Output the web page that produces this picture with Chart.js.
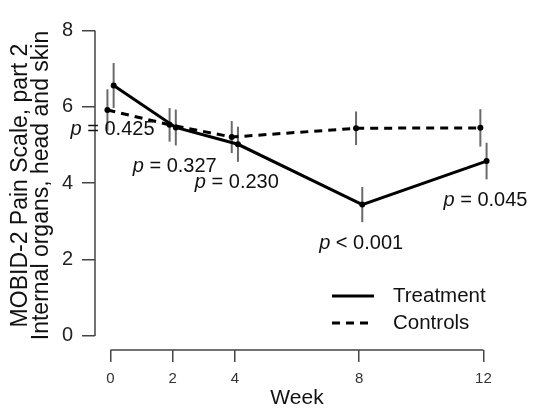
<!DOCTYPE html>
<html>
<head>
<meta charset="utf-8">
<script src="https://cdn.jsdelivr.net/npm/chart.js@4/dist/chart.umd.min.js"></script>
<style>
  html, body { margin: 0; padding: 0; background: #fff; }
  #wrap { width: 534px; height: 412px; }
</style>
</head>
<body>
<div id="wrap"><canvas id="chart"></canvas></div>
<script>
// ── data ──
const weeks = [0, 2, 4, 8, 12];
const treatmentMean = [6.56, 5.46, 5.02, 3.44, 4.58];
const treatmentErr  = [0.59, 0.47, 0.46, 0.46, 0.48];
const controlsMean  = [5.92, 5.53, 5.21, 5.44, 5.45];
const controlsErr   = [0.54, 0.44, 0.42, 0.44, 0.49];
const pLabels = ['= 0.425', '= 0.327', '= 0.230', '< 0.001', '= 0.045'];
const yTicks = [0, 2, 4, 6, 8];

const FONT = "'Liberation Sans', Arial, Helvetica, sans-serif";
const DODGE = 0.1; // weeks, so the two series do not overlap

function series(means, offset) {
  return weeks.map((w, i) => ({ x: w + offset, y: means[i] }));
}

// error bars, R-style axes, p-values and legend
const extras = {
  id: 'extras',
  beforeDatasetsDraw(chart) {
    const { ctx, scales: { x, y } } = chart;
    ctx.save();
    ctx.strokeStyle = '#6a6a6a';
    ctx.lineWidth = 2;
    chart.data.datasets.forEach(ds => {
      ds.data.forEach((p, i) => {
        const px = x.getPixelForValue(p.x);
        ctx.beginPath();
        ctx.moveTo(px, y.getPixelForValue(p.y + ds.err[i]));
        ctx.lineTo(px, y.getPixelForValue(p.y - ds.err[i]));
        ctx.stroke();
      });
    });
    ctx.restore();
  },
  afterDraw(chart) {
    const { ctx, chartArea, scales: { x, y } } = chart;
    ctx.save();

    // axis lines that only span the tick range
    ctx.strokeStyle = '#444';
    ctx.lineWidth = 1.5;
    ctx.beginPath();
    ctx.moveTo(chartArea.left, y.getPixelForValue(yTicks[0]));
    ctx.lineTo(chartArea.left, y.getPixelForValue(yTicks[yTicks.length - 1]));
    ctx.moveTo(x.getPixelForValue(weeks[0]), chartArea.bottom);
    ctx.lineTo(x.getPixelForValue(weeks[weeks.length - 1]), chartArea.bottom);
    ctx.stroke();

    // p-values under the treatment error bars
    ctx.fillStyle = '#111';
    ctx.textBaseline = 'middle';
    const italic = 'italic 20px ' + FONT;
    const normal = '20px ' + FONT;
    pLabels.forEach((txt, i) => {
      ctx.font = italic;
      const wp = ctx.measureText('p ').width;
      ctx.font = normal;
      const wt = ctx.measureText(txt).width;
      const cx = x.getPixelForValue(weeks[i]) + 2;
      const cy = y.getPixelForValue(treatmentMean[i] - treatmentErr[i]) + 21;
      const left = cx - (wp + wt) / 2;
      ctx.textAlign = 'left';
      ctx.font = italic;
      ctx.fillText('p', left, cy);
      ctx.font = normal;
      ctx.fillText(txt, left + wp, cy);
    });

    // legend
    ctx.font = '20.5px ' + FONT;
    chart.data.datasets.forEach((ds, i) => {
      const ly = 296 + i * 27;
      ctx.strokeStyle = ds.borderColor;
      ctx.lineWidth = ds.borderWidth;
      ctx.setLineDash(ds.borderDash || []);
      ctx.beginPath();
      ctx.moveTo(332, ly);
      ctx.lineTo(374, ly);
      ctx.stroke();
      ctx.setLineDash([]);
      ctx.textAlign = 'left';
      ctx.fillText(ds.label, 393, ly);
    });
    ctx.restore();
  }
};

new Chart(document.getElementById('chart'), {
  type: 'scatter',
  data: {
    datasets: [
      {
        label: 'Treatment',
        data: series(treatmentMean, DODGE),
        err: treatmentErr,
        showLine: true,
        borderColor: '#000',
        borderWidth: 3,
        pointRadius: 3,
        pointBackgroundColor: '#000',
        pointBorderWidth: 0
      },
      {
        label: 'Controls',
        data: series(controlsMean, -DODGE),
        err: controlsErr,
        showLine: true,
        borderColor: '#000',
        borderWidth: 3,
        borderDash: [8, 6],
        pointRadius: 3,
        pointBackgroundColor: '#000',
        pointBorderWidth: 0
      }
    ]
  },
  options: {
    responsive: true,
    maintainAspectRatio: false,
    animation: false,
    layout: { padding: { top: 5, right: 35, left: 0, bottom: 0 } },
    plugins: { legend: { display: false }, tooltip: { enabled: false } },
    scales: {
      x: {
        type: 'linear',
        min: -0.5,
        max: 12.5,
        afterBuildTicks: s => { s.ticks = weeks.map(v => ({ value: v })); },
        afterFit: s => { s.height = 62; },
        border: { display: false },
        grid: { drawOnChartArea: false, tickLength: 12, color: '#444', lineWidth: 1.5 },
        ticks: { font: { family: FONT, size: 15 }, color: '#333', padding: 8 },
        title: { display: true, text: 'Week', color: '#111', font: { family: FONT, size: 21 }, padding: { top: 0, bottom: 1 } }
      },
      y: {
        min: -0.37,
        max: 8.25,
        afterBuildTicks: s => { s.ticks = yTicks.map(v => ({ value: v })); },
        afterFit: s => { s.width = 95; },
        border: { display: false },
        grid: { drawOnChartArea: false, tickLength: 13, color: '#444', lineWidth: 1.5 },
        ticks: { font: { family: FONT, size: 20 }, color: '#222', padding: 9 },
        title: {
          display: true,
          text: ['MOBID-2 Pain Scale, part 2', 'Internal organs, head and skin'],
          color: '#111',
          font: { family: FONT, size: 23, lineHeight: 0.88 },
          padding: { top: 11, bottom: 0 }
        }
      }
    }
  },
  plugins: [extras]
});
</script>
</body>
</html>
